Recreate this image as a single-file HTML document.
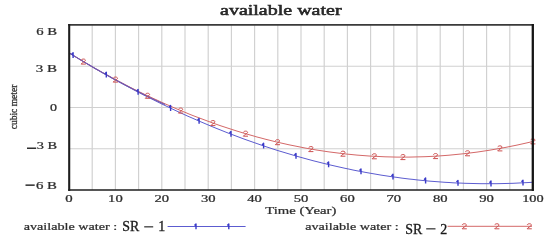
<!DOCTYPE html>
<html><head><meta charset="utf-8"><style>html,body{margin:0;padding:0;background:#fff;width:550px;height:240px;overflow:hidden}svg{display:block;filter:blur(0.35px)}</style></head>
<body><svg width="550" height="240" viewBox="0 0 550 240">
<rect width="550" height="240" fill="#fff"/>
<line x1="92.20" y1="25" x2="92.20" y2="190" stroke="#d0d0d0" stroke-width="1.15"/>
<line x1="115.40" y1="25" x2="115.40" y2="190" stroke="#d0d0d0" stroke-width="1.15"/>
<line x1="138.60" y1="25" x2="138.60" y2="190" stroke="#d0d0d0" stroke-width="1.15"/>
<line x1="161.80" y1="25" x2="161.80" y2="190" stroke="#d0d0d0" stroke-width="1.15"/>
<line x1="185.00" y1="25" x2="185.00" y2="190" stroke="#d0d0d0" stroke-width="1.15"/>
<line x1="208.20" y1="25" x2="208.20" y2="190" stroke="#d0d0d0" stroke-width="1.15"/>
<line x1="231.40" y1="25" x2="231.40" y2="190" stroke="#d0d0d0" stroke-width="1.15"/>
<line x1="254.60" y1="25" x2="254.60" y2="190" stroke="#d0d0d0" stroke-width="1.15"/>
<line x1="277.80" y1="25" x2="277.80" y2="190" stroke="#d0d0d0" stroke-width="1.15"/>
<line x1="301.00" y1="25" x2="301.00" y2="190" stroke="#d0d0d0" stroke-width="1.15"/>
<line x1="324.20" y1="25" x2="324.20" y2="190" stroke="#d0d0d0" stroke-width="1.15"/>
<line x1="347.40" y1="25" x2="347.40" y2="190" stroke="#d0d0d0" stroke-width="1.15"/>
<line x1="370.60" y1="25" x2="370.60" y2="190" stroke="#d0d0d0" stroke-width="1.15"/>
<line x1="393.80" y1="25" x2="393.80" y2="190" stroke="#d0d0d0" stroke-width="1.15"/>
<line x1="417.00" y1="25" x2="417.00" y2="190" stroke="#d0d0d0" stroke-width="1.15"/>
<line x1="440.20" y1="25" x2="440.20" y2="190" stroke="#d0d0d0" stroke-width="1.15"/>
<line x1="463.40" y1="25" x2="463.40" y2="190" stroke="#d0d0d0" stroke-width="1.15"/>
<line x1="486.60" y1="25" x2="486.60" y2="190" stroke="#d0d0d0" stroke-width="1.15"/>
<line x1="509.80" y1="25" x2="509.80" y2="190" stroke="#d0d0d0" stroke-width="1.15"/>
<line x1="69" y1="66.25" x2="533" y2="66.25" stroke="#d0d0d0" stroke-width="1.15"/>
<line x1="69" y1="107.50" x2="533" y2="107.50" stroke="#d0d0d0" stroke-width="1.15"/>
<line x1="69" y1="148.75" x2="533" y2="148.75" stroke="#d0d0d0" stroke-width="1.15"/>
<polyline points="69.0,52.8 73.0,55.3 77.0,57.7 81.0,60.1 85.0,62.5 89.0,64.9 93.0,67.2 97.0,69.5 101.0,71.7 105.0,73.9 109.0,76.1 113.0,78.3 117.0,80.4 121.0,82.5 125.0,84.6 129.0,86.7 133.0,88.7 137.0,90.7 141.0,92.6 145.0,94.6 149.0,96.4 153.0,98.3 157.0,100.1 161.0,102.0 165.0,103.8 169.0,105.5 173.0,107.3 177.0,109.0 181.0,110.7 185.0,112.3 189.0,114.0 193.0,115.6 197.0,117.1 201.0,118.6 205.0,120.1 209.0,121.6 213.0,123.1 217.0,124.5 221.0,125.9 225.0,127.2 229.0,128.5 233.0,129.8 237.0,131.1 241.0,132.3 245.0,133.5 249.0,134.7 253.0,135.8 257.0,137.0 261.0,138.0 265.0,139.1 269.0,140.1 273.0,141.1 277.0,142.1 281.0,143.0 285.0,143.9 289.0,144.8 293.0,145.6 297.0,146.4 301.0,147.2 305.0,148.0 309.0,148.7 313.0,149.4 317.0,150.1 321.0,150.7 325.0,151.3 329.0,151.9 333.0,152.4 337.0,152.9 341.0,153.4 345.0,153.9 349.0,154.3 353.0,154.7 357.0,155.1 361.0,155.4 365.0,155.7 369.0,156.0 373.0,156.2 377.0,156.4 381.0,156.6 385.0,156.8 389.0,156.9 393.0,157.0 397.0,157.1 401.0,157.1 405.0,157.1 409.0,157.1 413.0,157.0 417.0,156.9 421.0,156.8 425.0,156.7 429.0,156.5 433.0,156.3 437.0,156.1 441.0,155.8 445.0,155.5 449.0,155.2 453.0,154.8 457.0,154.4 461.0,154.0 465.0,153.6 469.0,153.1 473.0,152.6 477.0,152.1 481.0,151.5 485.0,150.9 489.0,150.3 493.0,149.6 497.0,148.9 501.0,148.2 505.0,147.5 509.0,146.7 513.0,145.9 517.0,145.1 521.0,144.2 525.0,143.3 529.0,142.4 533.0,141.4" fill="none" stroke="#d46868" stroke-width="1"/>
<polyline points="69.0,52.8 73.0,55.3 77.0,57.7 81.0,60.2 85.0,62.6 89.0,64.9 93.0,67.3 97.0,69.6 101.0,71.9 105.0,74.2 109.0,76.4 113.0,78.7 117.0,80.9 121.0,83.0 125.0,85.2 129.0,87.3 133.0,89.4 137.0,91.5 141.0,93.6 145.0,95.6 149.0,97.6 153.0,99.6 157.0,101.6 161.0,103.6 165.0,105.5 169.0,107.4 173.0,109.3 177.0,111.2 181.0,113.0 185.0,114.9 189.0,116.7 193.0,118.4 197.0,120.2 201.0,121.9 205.0,123.6 209.0,125.3 213.0,127.0 217.0,128.6 221.0,130.2 225.0,131.8 229.0,133.4 233.0,134.9 237.0,136.4 241.0,137.9 245.0,139.4 249.0,140.8 253.0,142.2 257.0,143.6 261.0,145.0 265.0,146.4 269.0,147.7 273.0,149.0 277.0,150.3 281.0,151.5 285.0,152.7 289.0,153.9 293.0,155.1 297.0,156.3 301.0,157.4 305.0,158.5 309.0,159.6 313.0,160.7 317.0,161.7 321.0,162.7 325.0,163.7 329.0,164.7 333.0,165.6 337.0,166.5 341.0,167.4 345.0,168.3 349.0,169.1 353.0,170.0 357.0,170.8 361.0,171.5 365.0,172.3 369.0,173.0 373.0,173.7 377.0,174.4 381.0,175.1 385.0,175.7 389.0,176.3 393.0,176.9 397.0,177.4 401.0,178.0 405.0,178.5 409.0,179.0 413.0,179.4 417.0,179.9 421.0,180.3 425.0,180.7 429.0,181.1 433.0,181.4 437.0,181.7 441.0,182.0 445.0,182.3 449.0,182.5 453.0,182.8 457.0,183.0 461.0,183.1 465.0,183.3 469.0,183.4 473.0,183.5 477.0,183.6 481.0,183.7 485.0,183.7 489.0,183.7 493.0,183.7 497.0,183.7 501.0,183.6 505.0,183.5 509.0,183.4 513.0,183.3 517.0,183.1 521.0,182.9 525.0,182.7 529.0,182.5 533.0,182.2" fill="none" stroke="#5c5cd0" stroke-width="1"/>
<polyline points="69.0,52.8 72.3,54.9 75.6,56.9 78.9,58.9 82.2,60.9 85.6,62.9 88.9,64.8 92.2,66.7 95.5,68.7 98.8,70.6 102.1,72.4 105.4,74.3 108.7,76.1 112.0,78.0 115.3,79.8 118.7,81.5 122.0,83.3 125.3,85.1 128.6,86.8 131.9,88.5 135.2,90.2 138.5,91.9 141.8,93.5 145.1,95.2 148.4,96.8 151.8,98.4 155.1,100.0 158.4,101.5 161.7,103.1 165.0,104.6" fill="none" stroke="#7458ac" stroke-width="1.1"/>
<path d="M81.2,60.3 C81.4,58.6 85.6,58.6 85.4,60.4 C85.1,61.7 82.0,62.6 81.1,64.1 L85.8,64.1" fill="none" stroke="#cc5050" stroke-width="1.0"/>
<path d="M113.3,78.3 C113.5,76.6 117.7,76.6 117.5,78.4 C117.2,79.7 114.1,80.6 113.2,82.1 L117.9,82.1" fill="none" stroke="#cc5050" stroke-width="1.0"/>
<path d="M145.4,94.5 C145.6,92.8 149.8,92.8 149.6,94.6 C149.3,95.9 146.2,96.8 145.3,98.3 L150.0,98.3" fill="none" stroke="#cc5050" stroke-width="1.0"/>
<path d="M178.5,109.3 C178.7,107.6 182.9,107.6 182.7,109.4 C182.4,110.7 179.3,111.6 178.4,113.1 L183.1,113.1" fill="none" stroke="#cc5050" stroke-width="1.0"/>
<path d="M210.8,121.8 C211.0,120.1 215.2,120.1 215.0,121.9 C214.7,123.2 211.6,124.1 210.7,125.6 L215.4,125.6" fill="none" stroke="#cc5050" stroke-width="1.0"/>
<path d="M243.4,132.4 C243.6,130.7 247.8,130.7 247.6,132.5 C247.3,133.8 244.2,134.7 243.3,136.2 L248.0,136.2" fill="none" stroke="#cc5050" stroke-width="1.0"/>
<path d="M275.4,140.9 C275.6,139.2 279.8,139.2 279.6,141.0 C279.3,142.3 276.2,143.2 275.3,144.7 L280.0,144.7" fill="none" stroke="#cc5050" stroke-width="1.0"/>
<path d="M308.8,147.8 C309.0,146.1 313.2,146.1 313.0,147.9 C312.7,149.2 309.6,150.1 308.7,151.6 L313.4,151.6" fill="none" stroke="#cc5050" stroke-width="1.0"/>
<path d="M340.8,152.4 C341.0,150.7 345.2,150.7 345.0,152.5 C344.7,153.8 341.6,154.7 340.7,156.2 L345.4,156.2" fill="none" stroke="#cc5050" stroke-width="1.0"/>
<path d="M372.2,155.0 C372.4,153.3 376.6,153.3 376.4,155.1 C376.1,156.4 373.0,157.3 372.1,158.8 L376.8,158.8" fill="none" stroke="#cc5050" stroke-width="1.0"/>
<path d="M400.8,155.8 C401.0,154.1 405.2,154.1 405.0,155.9 C404.7,157.2 401.6,158.1 400.7,159.6 L405.4,159.6" fill="none" stroke="#cc5050" stroke-width="1.0"/>
<path d="M433.4,154.8 C433.6,153.1 437.8,153.1 437.6,154.9 C437.3,156.2 434.2,157.1 433.3,158.6 L438.0,158.6" fill="none" stroke="#cc5050" stroke-width="1.0"/>
<path d="M465.4,152.0 C465.6,150.3 469.8,150.3 469.6,152.1 C469.3,153.4 466.2,154.3 465.3,155.8 L470.0,155.8" fill="none" stroke="#cc5050" stroke-width="1.0"/>
<path d="M497.8,147.1 C498.0,145.4 502.2,145.4 502.0,147.2 C501.7,148.5 498.6,149.4 497.7,150.9 L502.4,150.9" fill="none" stroke="#cc5050" stroke-width="1.0"/>
<path d="M530.8,140.1 C531.0,138.4 535.2,138.4 535.0,140.2 C534.7,141.5 531.6,142.4 530.7,143.9 L535.4,143.9" fill="none" stroke="#cc5050" stroke-width="1.0"/>
<path d="M71.6,54.4 L73.1,52.8 L73.1,58.1" fill="none" stroke="#3a3ac8" stroke-width="1.4" stroke-linejoin="round"/>
<path d="M104.8,73.9 L106.3,72.3 L106.3,77.6" fill="none" stroke="#3a3ac8" stroke-width="1.4" stroke-linejoin="round"/>
<path d="M136.6,91.1 L138.1,89.5 L138.1,94.8" fill="none" stroke="#3a3ac8" stroke-width="1.4" stroke-linejoin="round"/>
<path d="M169.1,107.2 L170.6,105.6 L170.6,110.9" fill="none" stroke="#3a3ac8" stroke-width="1.4" stroke-linejoin="round"/>
<path d="M197.6,120.1 L199.1,118.5 L199.1,123.8" fill="none" stroke="#3a3ac8" stroke-width="1.4" stroke-linejoin="round"/>
<path d="M229.5,133.1 L231.0,131.5 L231.0,136.8" fill="none" stroke="#3a3ac8" stroke-width="1.4" stroke-linejoin="round"/>
<path d="M262.1,144.9 L263.6,143.3 L263.6,148.6" fill="none" stroke="#3a3ac8" stroke-width="1.4" stroke-linejoin="round"/>
<path d="M294.5,155.0 L296.0,153.4 L296.0,158.7" fill="none" stroke="#3a3ac8" stroke-width="1.4" stroke-linejoin="round"/>
<path d="M327.1,163.6 L328.6,162.0 L328.6,167.3" fill="none" stroke="#3a3ac8" stroke-width="1.4" stroke-linejoin="round"/>
<path d="M359.5,170.5 L361.0,168.9 L361.0,174.2" fill="none" stroke="#3a3ac8" stroke-width="1.4" stroke-linejoin="round"/>
<path d="M391.5,175.9 L393.0,174.3 L393.0,179.6" fill="none" stroke="#3a3ac8" stroke-width="1.4" stroke-linejoin="round"/>
<path d="M424.1,179.7 L425.6,178.1 L425.6,183.4" fill="none" stroke="#3a3ac8" stroke-width="1.4" stroke-linejoin="round"/>
<path d="M456.5,182.0 L458.0,180.4 L458.0,185.7" fill="none" stroke="#3a3ac8" stroke-width="1.4" stroke-linejoin="round"/>
<path d="M489.5,182.7 L491.0,181.1 L491.0,186.4" fill="none" stroke="#3a3ac8" stroke-width="1.4" stroke-linejoin="round"/>
<path d="M521.5,181.8 L523.0,180.2 L523.0,185.5" fill="none" stroke="#3a3ac8" stroke-width="1.4" stroke-linejoin="round"/>
<line x1="68.2" y1="24.9" x2="533.8" y2="24.9" stroke="#3a3a3a" stroke-width="1.7"/><line x1="68.2" y1="190" x2="533.8" y2="190" stroke="#1e1e1e" stroke-width="1.7"/><line x1="69.2" y1="24" x2="69.2" y2="190.9" stroke="#1e1e1e" stroke-width="2.1"/><line x1="532.8" y1="24" x2="532.8" y2="190.9" stroke="#141414" stroke-width="2.3"/>
<text x="220" y="14.8" font-family="Liberation Serif" stroke="#1e1e1e" stroke-width="0.5" font-size="13.8" textLength="121.6" lengthAdjust="spacingAndGlyphs" fill="#2e2e2e">available water</text>
<text x="36.2" y="34.7" font-family="Liberation Serif" stroke="#2e2e2e" stroke-width="0.22" font-size="9.5" textLength="20.8" lengthAdjust="spacingAndGlyphs" fill="#2e2e2e">6 B</text>
<text x="35.8" y="72.1" font-family="Liberation Serif" stroke="#2e2e2e" stroke-width="0.22" font-size="9.5" textLength="21.2" lengthAdjust="spacingAndGlyphs" fill="#2e2e2e">3 B</text>
<text x="50" y="110.5" font-family="Liberation Serif" stroke="#2e2e2e" stroke-width="0.22" font-size="9.5" textLength="7.0" lengthAdjust="spacingAndGlyphs" fill="#2e2e2e">0</text>
<text x="36.7" y="149.2" font-family="Liberation Serif" stroke="#2e2e2e" stroke-width="0.22" font-size="9.5" textLength="20.3" lengthAdjust="spacingAndGlyphs" fill="#2e2e2e">3 B</text>
<text x="36" y="188.7" font-family="Liberation Serif" stroke="#2e2e2e" stroke-width="0.22" font-size="9.5" textLength="21.0" lengthAdjust="spacingAndGlyphs" fill="#2e2e2e">6 B</text>
<rect x="27" y="147.5" width="9.2" height="1.5" fill="#2e2e2e"/>
<rect x="25.5" y="184.4" width="9.2" height="1.5" fill="#2e2e2e"/>
<text x="65.3" y="202.2" font-family="Liberation Serif" stroke="#2e2e2e" stroke-width="0.22" font-size="9.5" textLength="7.4" lengthAdjust="spacingAndGlyphs" fill="#2e2e2e">0</text>
<text x="108.1" y="202.2" font-family="Liberation Serif" stroke="#2e2e2e" stroke-width="0.22" font-size="9.5" textLength="14.6" lengthAdjust="spacingAndGlyphs" fill="#2e2e2e">10</text>
<text x="154.5" y="202.2" font-family="Liberation Serif" stroke="#2e2e2e" stroke-width="0.22" font-size="9.5" textLength="14.6" lengthAdjust="spacingAndGlyphs" fill="#2e2e2e">20</text>
<text x="200.9" y="202.2" font-family="Liberation Serif" stroke="#2e2e2e" stroke-width="0.22" font-size="9.5" textLength="14.6" lengthAdjust="spacingAndGlyphs" fill="#2e2e2e">30</text>
<text x="247.3" y="202.2" font-family="Liberation Serif" stroke="#2e2e2e" stroke-width="0.22" font-size="9.5" textLength="14.6" lengthAdjust="spacingAndGlyphs" fill="#2e2e2e">40</text>
<text x="293.7" y="202.2" font-family="Liberation Serif" stroke="#2e2e2e" stroke-width="0.22" font-size="9.5" textLength="14.6" lengthAdjust="spacingAndGlyphs" fill="#2e2e2e">50</text>
<text x="340.1" y="202.2" font-family="Liberation Serif" stroke="#2e2e2e" stroke-width="0.22" font-size="9.5" textLength="14.6" lengthAdjust="spacingAndGlyphs" fill="#2e2e2e">60</text>
<text x="386.5" y="202.2" font-family="Liberation Serif" stroke="#2e2e2e" stroke-width="0.22" font-size="9.5" textLength="14.6" lengthAdjust="spacingAndGlyphs" fill="#2e2e2e">70</text>
<text x="432.9" y="202.2" font-family="Liberation Serif" stroke="#2e2e2e" stroke-width="0.22" font-size="9.5" textLength="14.6" lengthAdjust="spacingAndGlyphs" fill="#2e2e2e">80</text>
<text x="479.3" y="202.2" font-family="Liberation Serif" stroke="#2e2e2e" stroke-width="0.22" font-size="9.5" textLength="14.6" lengthAdjust="spacingAndGlyphs" fill="#2e2e2e">90</text>
<text x="522.2" y="202.2" font-family="Liberation Serif" stroke="#2e2e2e" stroke-width="0.22" font-size="9.5" textLength="21.5" lengthAdjust="spacingAndGlyphs" fill="#2e2e2e">100</text>
<text x="265.2" y="214.3" font-family="Liberation Serif" stroke="#2e2e2e" stroke-width="0.22" font-size="9.6" textLength="71.2" lengthAdjust="spacingAndGlyphs" fill="#2e2e2e">Time (Year)</text>
<text transform="translate(17.2,129.3) rotate(-90)" x="0" y="0" font-family="Liberation Serif" stroke="#2e2e2e" stroke-width="0.3" font-size="10.4" textLength="44.7" lengthAdjust="spacingAndGlyphs" fill="#2e2e2e">cubic meter</text>
<text x="23.7" y="230" font-family="Liberation Serif" stroke="#2e2e2e" stroke-width="0.22" font-size="10" textLength="93.4" lengthAdjust="spacingAndGlyphs" fill="#2e2e2e">available water :</text>
<text x="122.2" y="231.4" font-family="Liberation Serif" font-size="14" textLength="17" lengthAdjust="spacingAndGlyphs" fill="#1a1a1a" stroke="#1a1a1a" stroke-width="0.3">SR</text>
<rect x="144.2" y="226.3" width="9.0" height="1.1" fill="#1a1a1a"/>
<text x="158.2" y="231.4" font-family="Liberation Serif" font-size="14" fill="#1a1a1a" stroke="#1a1a1a" stroke-width="0.3">1</text>
<line x1="167.6" y1="226.5" x2="245.6" y2="226.5" stroke="#5c5cd0" stroke-width="1"/>
<path d="M194.5,225.5 L196.0,223.9 L196.0,229.2" fill="none" stroke="#3a3ac8" stroke-width="1.4" stroke-linejoin="round"/>
<path d="M227.3,225.5 L228.8,223.9 L228.8,229.2" fill="none" stroke="#3a3ac8" stroke-width="1.4" stroke-linejoin="round"/>
<text x="305.2" y="230" font-family="Liberation Serif" stroke="#2e2e2e" stroke-width="0.22" font-size="10" textLength="93.4" lengthAdjust="spacingAndGlyphs" fill="#2e2e2e">available water :</text>
<text x="405.2" y="233.8" font-family="Liberation Serif" font-size="14" textLength="17" lengthAdjust="spacingAndGlyphs" fill="#1a1a1a" stroke="#1a1a1a" stroke-width="0.3">SR</text>
<rect x="426.2" y="228.3" width="9.3" height="1.1" fill="#1a1a1a"/>
<text x="440.2" y="233.8" font-family="Liberation Serif" font-size="14" fill="#1a1a1a" stroke="#1a1a1a" stroke-width="0.3">2</text>
<line x1="447.6" y1="226.3" x2="532" y2="226.3" stroke="#d46868" stroke-width="1"/>
<path d="M462.2,225.0 C462.4,223.3 466.6,223.3 466.4,225.1 C466.1,226.4 463.0,227.3 462.1,228.8 L466.8,228.8" fill="none" stroke="#cc5050" stroke-width="1.0"/>
<path d="M494.8,225.0 C495.0,223.3 499.2,223.3 499.0,225.1 C498.7,226.4 495.6,227.3 494.7,228.8 L499.4,228.8" fill="none" stroke="#cc5050" stroke-width="1.0"/>
<path d="M527.2,225.0 C527.4,223.3 531.6,223.3 531.4,225.1 C531.1,226.4 528.0,227.3 527.1,228.8 L531.8,228.8" fill="none" stroke="#cc5050" stroke-width="1.0"/>
</svg></body></html>
